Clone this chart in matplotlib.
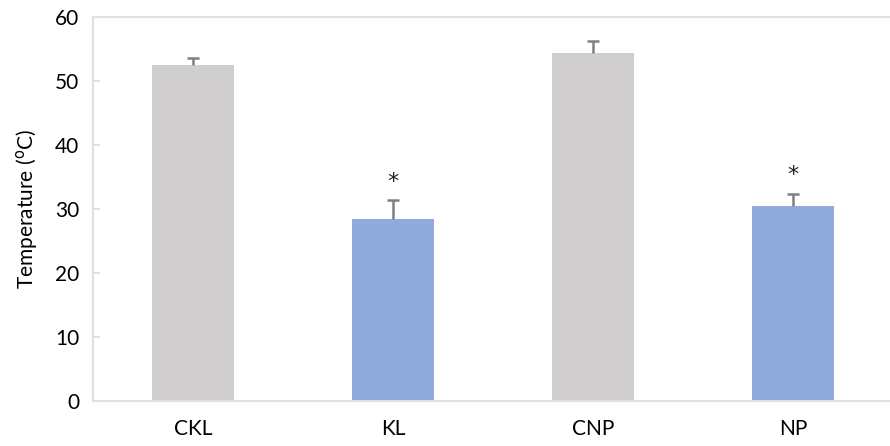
import matplotlib
matplotlib.use("Agg")
import matplotlib.pyplot as plt
import numpy as np

categories = ["CKL", "KL", "CNP", "NP"]
temperature = [52.5, 28.4, 54.3, 30.4]
errors = [1.1, 3.0, 1.9, 2.0]
significant = [False, True, False, True]
bar_colors = ["#d0cece", "#8faadc", "#d0cece", "#8faadc"]
y_ticks = [0, 10, 20, 30, 40, 50, 60]

plt.rcParams["font.family"] = ["Lato", "DejaVu Sans"]

fig = plt.figure(figsize=(8.9, 4.46), dpi=100)
ax = fig.add_axes([93 / 890, 45 / 446, 800 / 890, 384 / 446])

x = np.arange(len(categories))
temperature = np.array(temperature)
errors = np.array(errors)
ax.bar(x, temperature, width=0.41, color=bar_colors, zorder=2)

# upper-only error bars with a cap at the top end
ax.vlines(x, temperature, temperature + errors, colors="#7f7f7f",
          linewidth=1.8, zorder=3)
ax.plot(x, temperature + errors, linestyle="none", marker="_",
        markersize=9, markeredgewidth=1.8, color="#7f7f7f", zorder=3)

for xi, v, e, sig in zip(x, temperature, errors, significant):
    if sig:
        ax.annotate("*", (xi, v + e), xytext=(0, 6), textcoords="offset points",
                    ha="center", va="bottom", fontsize=16, color="#222222",
                    family="DejaVu Sans")

ax.set_xlim(-0.5, 3.5)
ax.set_ylim(0, 60)
ax.set_xticks(x)
ax.set_xticklabels(categories, fontsize=15)
ax.set_yticks(y_ticks)
ax.tick_params(axis="y", direction="in", length=5, width=1.2, color="#d9d9d9",
               labelsize=15, pad=10)
ax.tick_params(axis="x", length=0, pad=13)
ax.set_ylabel("Temperature ($^{\\mathrm{o}}$C)", fontsize=15, labelpad=11)

for side in ["left", "top", "bottom", "right"]:
    ax.spines[side].set_color("#e0e0e0")
    ax.spines[side].set_linewidth(1.5)

fig.savefig("out.png", dpi=100)
